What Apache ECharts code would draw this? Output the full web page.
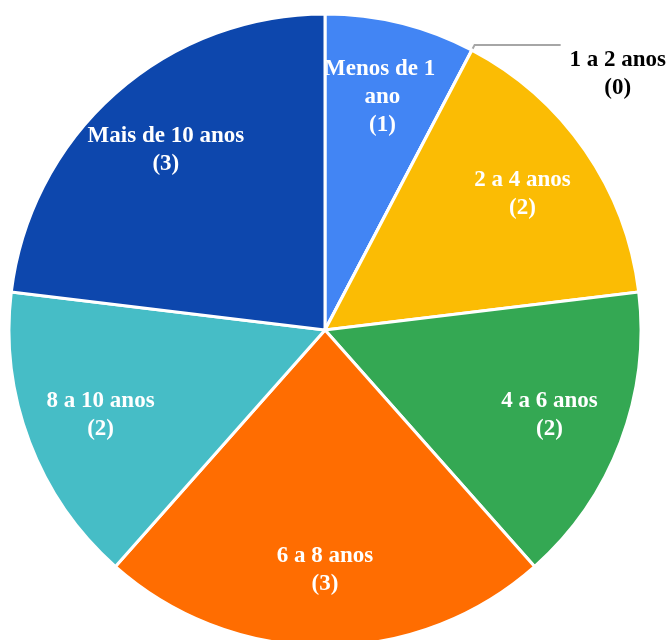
<!DOCTYPE html>
<html>
<head>
	<meta charset="utf-8"/>
	<title>Pie</title>
	<style type="text/css">
		html,body{ margin:0; padding:0; background:#ffffff; }
		#chart{ width:672px; height:640px; }
	</style>
</head>
<body>
	<div id="chart"></div>
	<script src="https://cdn.jsdelivr.net/npm/echarts@6/dist/echarts.min.js"></script>
	<script type="text/javascript">

		// data
		var categories = ['Menos de 1 ano', '1 a 2 anos', '2 a 4 anos', '4 a 6 anos', '6 a 8 anos', '8 a 10 anos', 'Mais de 10 anos'];
		var values = [1, 0, 2, 2, 3, 2, 3];
		var colors = ['#4285F4', '#EA4335', '#FBBC04', '#34A853', '#FF6D01', '#46BDC6', '#0D47AD'];

		var R = 316;
		var font = {
			fontFamily: '"Liberation Serif", "Times New Roman", serif',
			fontWeight: 'bold',
			fontSize: 23,
			lineHeight: 28
		};

		var pieData = categories.map(function(name, i){
			return { name: name, value: values[i], itemStyle: { color: colors[i] } };
		});

		var labelData = categories.map(function(name, i){
			var item = { name: name, value: values[i] };
			if(values[i] === 0){
				item.label = {
					position: 'outside',
					color: '#000000',
					padding: [58, 0, 0, 0],
					formatter: '{t|{b}}\n{t|({c})}',
					rich: {
						t: Object.assign({ width: 104, align: 'center', color: '#000000' }, font)
					}
				};
				item.labelLine = { show: true, length: 6, length2: 86, lineStyle: { color: '#a6a6a6', width: 2 } };
			}
			if(name === 'Menos de 1 ano'){
				item.label = { width: 125, overflow: 'break' };
			}
			return item;
		});

		var chart = echarts.init(document.getElementById('chart'), null, { renderer: 'canvas' });

		chart.setOption({
			animation: false,
			backgroundColor: '#ffffff',
			series: [
				{
					type: 'pie',
					center: [325, 330],
					radius: [0, R],
					startAngle: 90,
					silent: true,
					label: { show: false },
					labelLine: { show: false },
					itemStyle: { borderColor: '#ffffff', borderWidth: 3 },
					data: pieData
				},
				{
					// label carrier, sits on top of the visible pie
					type: 'pie',
					center: [325, 330],
					radius: [R * 0.5, R],
					startAngle: 90,
					silent: true,
					avoidLabelOverlap: false,
					itemStyle: { color: 'transparent', borderWidth: 0 },
					label: Object.assign({
						show: true,
						position: 'inside',
						color: '#ffffff',
						formatter: '{b}\n({c})'
					}, font),
					labelLine: { show: false },
					data: labelData
				}
			]
		});

	</script>
</body>
</html>
